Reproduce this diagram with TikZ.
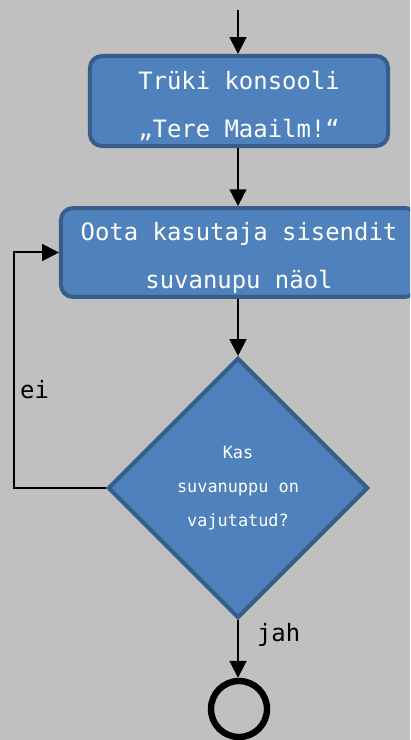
\documentclass[tikz,border=0pt]{standalone}
\usepackage{fontspec}
\setmonofont{DejaVu Sans Mono}
\usepackage{xcolor}
\usetikzlibrary{shapes.geometric}
\usetikzlibrary{arrows.meta}
\usetikzlibrary{math}

\definecolor{boxfill}{HTML}{4F81BD}
\definecolor{boxline}{HTML}{385D8A}
\definecolor{canvas}{HTML}{C0C0C0}

\begin{document}
\begin{tikzpicture}[x=0.025cm,y=-0.025cm,
  flow/.style={line width=0.05cm,-{Triangle[width=0.42cm,length=0.42cm]}},
  stepbox/.style={rectangle,rounded corners=0.3cm,draw=boxline,fill=boxfill,
    line width=0.1cm,text=white,align=center,inner sep=0,text height=1.9cm,
    font=\ttfamily\fontsize{17}{34}\selectfont},
  askbox/.style={diamond,draw=boxline,fill=boxfill,line width=0.1cm,
    text=white,align=center,inner sep=0,minimum width=6.5cm,minimum height=6.5cm,
    font=\ttfamily\fontsize{12}{24}\selectfont},
  stopmark/.style={circle,draw,line width=0.16cm,minimum size=1.4cm,inner sep=0},
  lbl/.style={font=\ttfamily\fontsize{17}{20}\selectfont,inner sep=0}]

  \tikzmath{
    \midx  = 239; % middle of the flow
    \loopx = 14;  % x of the return line
  }

  % canvas
  \fill[canvas] (0,0) rectangle (410,740);
  \useasboundingbox (0,0) rectangle (410,740);
  \clip (0,0) rectangle (410,740);

  % entry point
  \coordinate (in) at (\midx-1, 10);

  % steps
  \node[stepbox, minimum width=7.45cm, minimum height=2.25cm] (print)
    at (\midx, 101) {Trüki konsooli\\„Tere Maailm!“};
  \node[stepbox, minimum width=8.9cm, minimum height=2.22cm] (wait)
    at (\midx, 252.5) {Oota kasutaja sisendit\\suvanupu näol};
  \node[askbox] (ask) at (\midx-1, 488) {Kas\\suvanuppu on\\vajutatud?};
  \node[stopmark] (stop) at (\midx, 709) {};

  % connectors
  \draw[flow] (in) -- (in |- print.north);
  \draw[flow] (print.south -| in) -- (in |- wait.north);
  \draw[flow] (wait.south -| in) -- (ask.north);
  \draw[flow] (ask.west) -- (\loopx, 488) coordinate (back)
    |- node[lbl, pos=0.21, anchor=west, xshift=0.13cm] {ei} (wait.west);
  \draw[flow] (ask.south) -- node[lbl, pos=0.25, anchor=west, xshift=0.45cm] {jah}
    (ask.south |- stop.north);

\end{tikzpicture}
\end{document}
